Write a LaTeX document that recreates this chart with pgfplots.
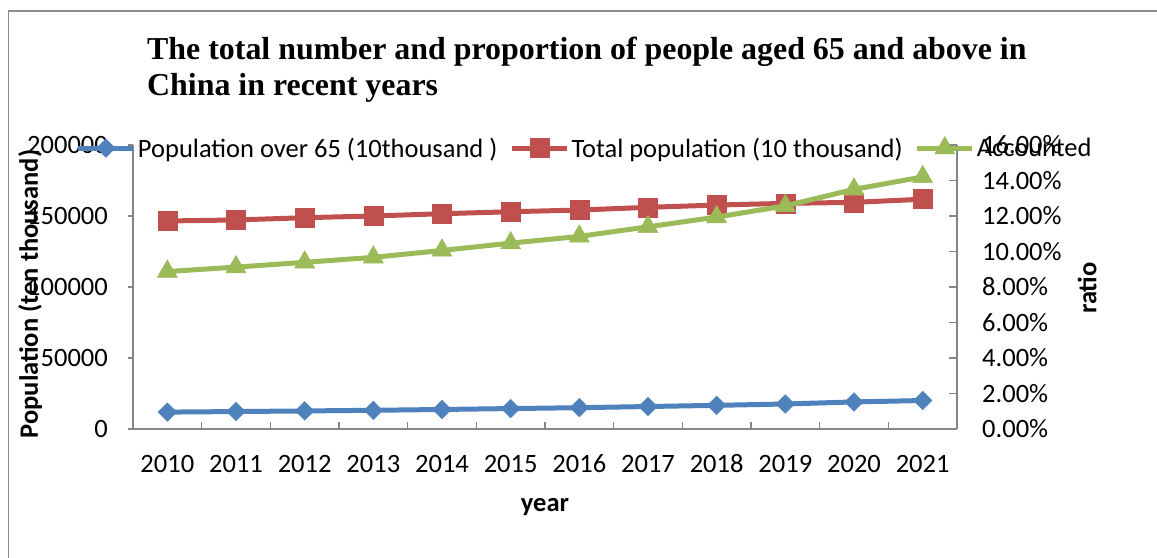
\documentclass[border=0pt]{standalone}
\usepackage{fontspec}
\setmainfont{Carlito}
\newfontfamily\titlefont{Liberation Serif}
\usepackage{pgfplots}
\usepackage{pgfplotstable}
\pgfplotsset{compat=1.18}

\definecolor{serA}{HTML}{4F81BD}
\definecolor{serB}{HTML}{C0504D}
\definecolor{serC}{HTML}{9BBB59}
\definecolor{axgray}{HTML}{868686}
\definecolor{framegray}{HTML}{8C8C8C}

% idx: 0 = 2010 ... 11 = 2021; over65 and total in ten thousand, ratio in percent
\pgfplotstableread{
idx over65 total  ratio
0   11894  146500 8.87
1   12288  147200 9.12
2   12714  148800 9.39
3   13161  150000 9.67
4   13755  151600 10.06
5   14386  153000 10.47
6   15003  154200 10.85
7   15831  156100 11.39
8   16658  157700 11.94
9   17603  158900 12.57
10  19064  159600 13.50
11  20056  161800 14.20
}\agedata

\newcommand\chartfont{\fontsize{26.5bp}{31bp}\selectfont}

\pgfplotsset{
  serieA/.style={serA, line width=5bp, mark=square*, mark size=6.5bp,
    mark options={solid, rotate=45, line width=0.6bp}},
  serieB/.style={serB, line width=5bp, mark=square*, mark size=9.5bp,
    mark options={solid, line width=0.6bp}},
  serieC/.style={serC, line width=5bp, mark=triangle*, mark size=11.5bp,
    mark options={solid, line width=0.6bp}},
  frame/.style={
    scale only axis, width=824bp, height=284bp,
    at={(133bp,129bp)}, anchor=south west,
    xmin=-0.5, xmax=11.5, clip=false,
    scaled y ticks=false,
    axis line style={axgray, line width=1.3bp, -},
    tick style={axgray, line width=1.3bp},
    ticklabel style={font=\chartfont},
    label style={font=\chartfont\bfseries},
  },
}

\begin{document}
\begin{tikzpicture}
\useasboundingbox (0,0) rectangle (1157bp,558bp);
\draw[framegray, line width=1.5bp] (8.5bp,0) -- (8.5bp,547bp) -- (1157bp,547bp);

\node[anchor=base west, inner sep=0pt, font=\titlefont\bfseries\fontsize{31.9bp}{37bp}\selectfont]
  at (147bp,498.5bp) {The total number and proportion of people aged 65 and above in};
\node[anchor=base west, inner sep=0pt, font=\titlefont\bfseries\fontsize{31.9bp}{37bp}\selectfont]
  at (147bp,462bp) {China in recent years};

\begin{axis}[
  frame,
  ymin=0, ymax=200000,
  axis x line*=bottom, axis y line*=left,
  xtick={0,...,11},
  xticklabels={2010,2011,2012,2013,2014,2015,2016,2017,2018,2019,2020,2021},
  minor xtick={-0.5,0.5,...,11.5},
  xtick align=inside,
  major x tick style={draw=none},
  minor tick length=7bp,
  ytick={0,50000,100000,150000,200000},
  yticklabels={0,50000,100000,150000,200000},
  ytick align=outside,
  major tick length=5bp,
  xticklabel style={anchor=base, inner sep=0pt},
  xticklabel shift=43.5bp,
  yticklabel style={anchor=east, inner sep=0pt},
  yticklabel shift=20bp,
  xlabel={year},
  xlabel style={at={(axis description cs:0.5,-0.292)}, anchor=base},
  ylabel={Population (ten thousand)},
  ylabel style={at={(axis description cs:-0.125,0.475)}, anchor=center},
]
\addplot[serieA] table[x=idx, y=over65] {\agedata};
\addplot[serieB] table[x=idx, y=total] {\agedata};
\end{axis}

\begin{axis}[
  frame,
  ymin=0, ymax=16,
  axis x line=none, axis y line*=right,
  ytick={0,2,4,6,8,10,12,14,16},
  yticklabels={0.00\%,2.00\%,4.00\%,6.00\%,8.00\%,10.00\%,12.00\%,14.00\%,16.00\%},
  ytick align=inside,
  major tick length=8bp,
  yticklabel style={anchor=west, inner sep=0pt},
  yticklabel shift=25bp,
  ylabel={ratio},
  ylabel style={at={(axis description cs:1.158,0.496)}, anchor=center},
  legend columns=3,
  legend style={
    at={(-0.0692,0.989)}, anchor=west,
    draw=none, fill=none, inner sep=0pt, outer sep=0pt,
    font=\chartfont,
    nodes={inner sep=2bp},
    /tikz/every even column/.append style={column sep=10bp},
  },
  legend image code/.code={
    \draw[mark repeat=2, mark phase=2, #1] plot coordinates {(0bp,0bp) (27.5bp,0bp) (55bp,0bp)};
  },
]
\addlegendimage{serieA}
\addlegendentry{Population over 65 (10thousand )}
\addlegendimage{serieB}
\addlegendentry{Total population (10 thousand)}
\addplot[serieC] table[x=idx, y=ratio] {\agedata};
\addlegendentry{Accounted}
\end{axis}
\end{tikzpicture}
\end{document}
